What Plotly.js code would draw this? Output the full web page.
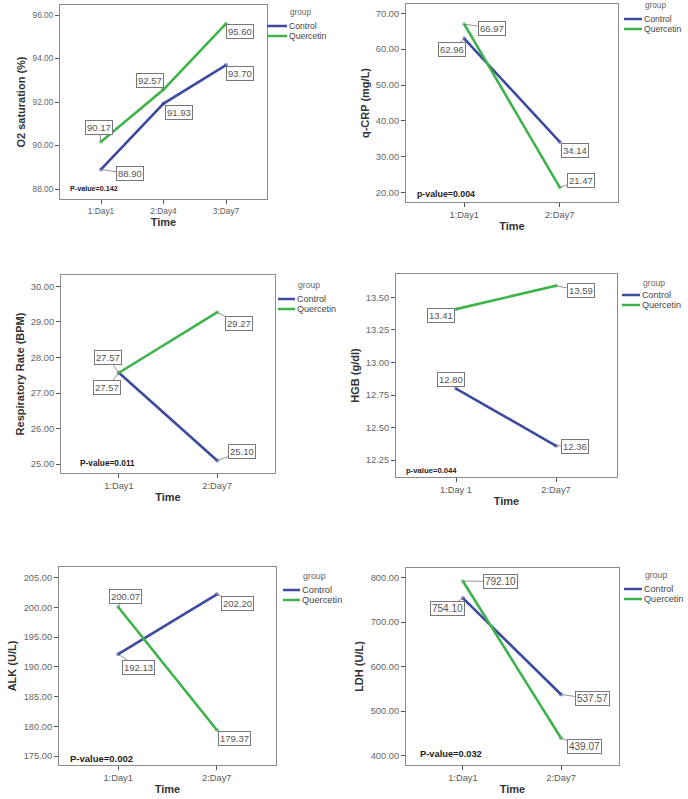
<!DOCTYPE html>
<html>
<head>
<meta charset="utf-8">
<script src="https://cdn.plot.ly/plotly-3.0.1.min.js"></script>
<style>html,body{margin:0;padding:0;background:#fff;}#chart{width:688px;height:799px;}</style>
</head>
<body>
<div id="chart"></div>
<script>
// ---- data ----
const o2Days = ['1:Day1', '2:Day4', '3:Day7'];
const o2Control = [88.90, 91.93, 93.70];
const o2Quercetin = [90.17, 92.57, 95.60];

const crpDays = ['1:Day1', '2:Day7'];
const crpControl = [62.96, 34.14];
const crpQuercetin = [66.97, 21.47];

const rrDays = ['1:Day1', '2:Day7'];
const rrControl = [27.57, 25.10];
const rrQuercetin = [27.57, 29.27];

const hgbDays = ['1:Day 1', '2:Day7'];
const hgbControl = [12.80, 12.36];
const hgbQuercetin = [13.41, 13.59];

const alkDays = ['1:Day1', '2:Day7'];
const alkControl = [192.13, 202.20];
const alkQuercetin = [200.07, 179.37];

const ldhDays = ['1:Day1', '2:Day7'];
const ldhControl = [754.10, 537.57];
const ldhQuercetin = [792.10, 439.07];

const yTitles = ['O2 saturation (%)', 'q-CRP (mg/L)', 'Respiratory Rate (BPM)', 'HGB (g/dl)', 'ALK (U/L)', 'LDH (U/L)'];
const pValues = ['P-value=0.142', 'p-value=0.004', 'P-value=0.011', 'p-value=0.044', 'P-value=0.002', 'P-value=0.032'];
const groupNames = ['Control', 'Quercetin'];
const xTitle = 'Time';
const legendTitle = 'group';

// ---- layout settings (positions / styles) ----
const W = 688, H = 799;
const FONT = 'Liberation Sans, Arial, sans-serif';
const BLUE = '#3d4a9e';
const GREEN = '#3fb34b';

const panels = [
  {days: o2Days, c: o2Control, q: o2Quercetin, frame: [60, 267, 5, 199], yr: [87.54, 96.46], dt: 2, xr: [-0.656, 2.656], tf: 8.3, lf: 9.5,
   off: {c: [[29, 4.5], [15, 8.5], [14, 8]], q: [[-2, -14], [-14, -9], [14, 8]]}, p: [68, 188], pfs: 7.2,
   lg: {x0: 267, x1: 287, ty: 13, cy: 26, qy: 36, fs: 8.6}},
  {days: crpDays, c: crpControl, q: crpQuercetin, frame: [406, 618, 4, 202], yr: [17.4, 72.6], dt: 10, xr: [-0.61, 1.61], tf: 9.3, lf: 9.5,
   off: {c: [[-12, 11], [15, 9]], q: [[28, 4], [21, -7]]}, p: [415, 194], pfs: 8.8,
   lg: {x0: 624, x1: 642, ty: 6, cy: 19, qy: 29, fs: 8.6}},
  {days: rrDays, c: rrControl, q: rrQuercetin, frame: [61, 275, 275, 473], yr: [24.75, 30.32], dt: 1, xr: [-0.59, 1.59], tf: 9.3, lf: 9.5,
   off: {c: [[-12, 15], [25, -9]], q: [[-11, -15], [22, 11]]}, p: [78, 463], pfs: 8.3,
   lg: {x0: 278, x1: 295, ty: 285, cy: 299, qy: 309, fs: 9}},
  {days: hgbDays, c: hgbControl, q: hgbQuercetin, frame: [396, 617, 274, 477], yr: [12.12, 13.68], dt: 0.25, xr: [-0.6, 1.61], tf: 9.3, lf: 9.5,
   off: {c: [[-5, -9], [19, 1]], q: [[-15, 6], [25, 5]]}, p: [404, 470], pfs: 7.7,
   lg: {x0: 622, x1: 640, ty: 283, cy: 295, qy: 305, fs: 9}},
  {days: alkDays, c: alkControl, q: alkQuercetin, frame: [59, 276, 567, 765], yr: [173.49, 206.8], dt: 5, xr: [-0.6, 1.6], tf: 9.3, lf: 9.5,
   off: {c: [[20, 13], [21, 9]], q: [[7, -11], [18, 8]]}, p: [68, 758], pfs: 9.5,
   lg: {x0: 283, x1: 300, ty: 576, cy: 590, qy: 600, fs: 9.3}},
  {days: ldhDays, c: ldhControl, q: ldhQuercetin, frame: [406, 619, 568, 765], yr: [379, 821.8], dt: 100, xr: [-0.58, 1.59], tf: 9.3, lf: 10,
   off: {c: [[-15, 10], [31, 4.5]], q: [[38, 0], [23, 8]]}, p: [418, 754], pfs: 9.3,
   lg: {x0: 624, x1: 642, ty: 575, cy: 589, qy: 599, fs: 9.1}}
];

const traces = [];
const annotations = [];
const shapes = [];
const layout = {
  width: W, height: H,
  margin: {l: 0, r: 0, t: 0, b: 0},
  paper_bgcolor: '#fff', plot_bgcolor: '#fff',
  font: {family: FONT, color: '#444'},
  annotations: annotations,
  shapes: shapes,
  showlegend: false,
  hovermode: false
};
const px = v => v / W, py = v => 1 - v / H;

panels.forEach((pn, i) => {
  const n = i + 1;
  const xa = 'x' + (n === 1 ? '' : n), ya = 'y' + (n === 1 ? '' : n);
  const xk = 'xaxis' + (n === 1 ? '' : n), yk = 'yaxis' + (n === 1 ? '' : n);
  const [l, r, t, b] = pn.frame;
  layout[xk] = {
    domain: [px(l), px(r)], anchor: ya, type: 'category', range: pn.xr,
    showline: true, mirror: true, linecolor: '#8a8a8a', linewidth: 1,
    showgrid: false, zeroline: false, ticks: 'outside', ticklen: 4, tickcolor: '#555', tickwidth: 1,
    tickfont: {size: pn.tf, color: '#5a5a5a', family: FONT},
    title: {text: xTitle, font: {size: 11, color: '#333', family: FONT, weight: 'bold'}, standoff: 3},
    fixedrange: true
  };
  layout[yk] = {
    domain: [py(b), py(t)], anchor: xa, range: pn.yr, dtick: pn.dt, tick0: 0, tickformat: '.2f',
    showline: true, mirror: true, linecolor: '#8a8a8a', linewidth: 1,
    showgrid: false, zeroline: false, ticks: 'outside', ticklen: 4, tickcolor: '#555', tickwidth: 1,
    tickfont: {size: pn.tf, color: '#666', family: FONT},
    title: {text: yTitles[i], font: {size: 11, color: '#333', family: FONT, weight: 'bold'}, standoff: 4},
    fixedrange: true
  };
  // legend (title + two entries)
  const lg = pn.lg;
  annotations.push({xref: 'paper', yref: 'paper', x: px(lg.x1 + 1), y: py(lg.ty), xanchor: 'left', yanchor: 'middle',
    text: legendTitle, showarrow: false, font: {size: lg.fs - 0.4, color: '#666', family: FONT}});
  const series = [[pn.c, BLUE, groupNames[0], pn.off.c, lg.cy], [pn.q, GREEN, groupNames[1], pn.off.q, lg.qy]];
  series.forEach(([vals, col, name, offs, ly]) => {
    traces.push({
      type: 'scatter', mode: 'lines+markers', x: pn.days, y: vals, name: name,
      xaxis: xa, yaxis: ya,
      line: {color: col, width: 2.6}, marker: {color: col, size: 4, opacity: 0.6},
      hoverinfo: 'skip'
    });
    shapes.push({type: 'line', xref: 'paper', yref: 'paper', x0: px(lg.x0), x1: px(lg.x1), y0: py(ly), y1: py(ly),
      line: {color: col, width: 2.5}});
    annotations.push({xref: 'paper', yref: 'paper', x: px(lg.x1), y: py(ly), xanchor: 'left', yanchor: 'middle',
      text: name, showarrow: false, font: {size: lg.fs, color: '#444', family: FONT}});
    vals.forEach((v, k) => {
      annotations.push({
        xref: xa, yref: ya, x: pn.days[k], y: v, text: v.toFixed(2),
        showarrow: true, arrowhead: 0, arrowwidth: 0.8, arrowcolor: '#777', standoff: 0,
        ax: offs[k][0], ay: offs[k][1],
        bordercolor: '#777', borderwidth: 1, borderpad: 1, bgcolor: '#fff',
        font: {size: pn.lf, color: '#555', family: FONT}
      });
    });
  });
  annotations.push({
    xref: 'paper', yref: 'paper', x: px(pn.p[0]), y: py(pn.p[1]), xanchor: 'left', yanchor: 'middle',
    text: '<b>' + pValues[i] + '</b>', showarrow: false,
    font: {size: pn.pfs, color: '#222', family: FONT}
  });
});

Plotly.newPlot('chart', traces, layout, {displayModeBar: false, staticPlot: true});
</script>
</body>
</html>
